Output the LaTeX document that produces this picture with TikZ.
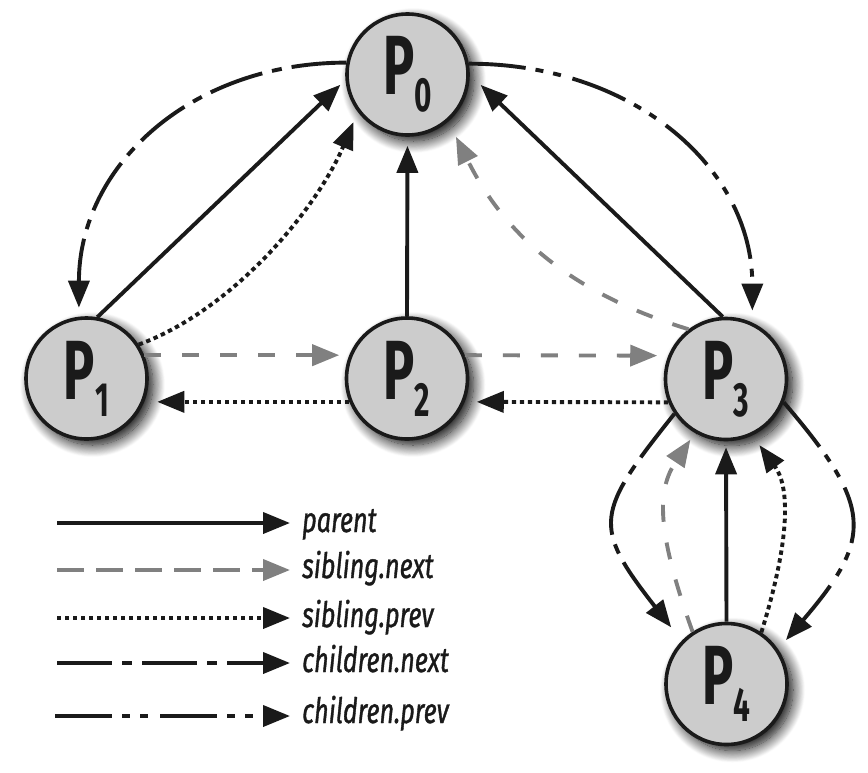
\documentclass[tikz,border=0pt]{standalone}
\usepackage{fontspec}
\setmainfont{Fira Sans}
\newfontfamily\pfont{Fira Sans}[FakeStretch=0.62]
\newfontfamily\lfont{Fira Sans}[FakeStretch=0.72,FakeBold=1]
\usetikzlibrary{arrows.meta,shadows.blur}
\definecolor{nodegray}{RGB}{204,204,204}
\definecolor{arrowgray}{RGB}{128,128,128}
\definecolor{inkblack}{RGB}{26,26,26}
\newcommand\plab[1]{{\pfont\bfseries\fontsize{84}{84}\selectfont P\raisebox{-17pt}{\fontsize{48}{48}\selectfont #1}}}
\tikzset{
  proc/.style={circle, draw=inkblack, line width=3.6pt, fill=nodegray,
    minimum size=121pt, inner sep=0pt, text=inkblack,
    blur shadow={shadow xshift=6pt, shadow yshift=-6pt, shadow blur radius=12pt,
      shadow opacity=100, shadow blur steps=16}},
  arrowend/.style={-{Triangle[length=27pt,width=21pt]}},
  baseln/.style={line width=3.9pt, line cap=butt, arrowend},
  parentln/.style={baseln, draw=inkblack},
  snext/.style={baseln, draw=arrowgray, dash pattern=on 17pt off 21pt},
  legsnext/.style={baseln, draw=arrowgray, dash pattern=on 27pt off 12pt},
  sprev/.style={baseln, draw=inkblack, dash pattern=on 4.4pt off 3.6pt},
  cnext/.style={baseln, draw=inkblack, dash pattern=on 55pt off 10pt on 10pt off 10pt},
  cprev/.style={baseln, draw=inkblack, dash pattern=on 57pt off 10pt on 8pt off 10pt on 8pt off 12pt},
  legtext/.style={anchor=base west, inner sep=0pt, text=inkblack,
    font=\lfont\itshape\fontsize{35}{35}\selectfont},
}
\begin{document}
\begin{tikzpicture}[x=1pt,y=-1pt]
\useasboundingbox (0,0) rectangle (868,772);
% processes
\node[proc] (P0) at (407.5,74.5) {\plab{0}};
\node[proc] (P1) at (86.5,378.5) {\plab{1}};
\node[proc] (P2) at (407,378.5) {\plab{2}};
\node[proc] (P3) at (726,379) {\plab{3}};
\node[proc] (P4) at (726.5,684) {\plab{4}};
% parent
\draw[parentln, shorten >=7pt] (P1.80) -- (P0.185);
\draw[parentln, shorten >=9pt] (P2.north) -- (P0.south);
\draw[parentln, shorten >=15pt] (P3.93) -- (P0.0);
\draw[parentln, shorten >=6pt] (P4.north) -- (P3.south);
% sibling.next
\draw[snext, shorten >=10pt] (P1.22) -- (P2.158);
\draw[snext, shorten >=11pt] (P2.22) -- (P3.158);
\draw[snext, shorten >=17pt] (P3.127) .. controls +(-130,-40) and +(51.5,103.5) .. (P0.311);
\draw[snext, shorten >=8pt] (P4.123) .. controls +(-36.5,-101.6) and +(-38,57) .. (P3.240);
% sibling.prev
\draw[sprev, shorten >=13pt] (P2.202) -- (P1.-22);
\draw[sprev, shorten >=12pt] (P3.202) -- (P2.-22);
\draw[sprev, shorten >=11pt] (P1.33) .. controls +(98,-36.5) and +(-39.6,93.9) .. (P0.217);
\draw[sprev, shorten >=12pt] (P4.56) .. controls +(30.5,-98) and +(36.6,50) .. (P3.295);
% children.next
\draw[cnext, shorten >=9pt] (P0.169) .. controls +(-155,0) and +(0,-151) .. (P1.97);
\draw[cnext, shorten >=17pt] (P3.214) .. controls +(-79,99) and +(-90,-115) .. (P4.136);
% children.prev
\draw[cprev, shorten >=12pt] (P0.10) .. controls +(164,0) and +(0,-155) .. (P3.65);
\draw[cprev, shorten >=12pt] (P3.338) .. controls +(89,104) and +(96,-112) .. (P4.34);
% legend
\coordinate (La1) at (57,523); \coordinate (Lb1) at (290,523);
\coordinate (La2) at (57,570); \coordinate (Lb2) at (290,570);
\coordinate (La3) at (57,618); \coordinate (Lb3) at (290,618);
\coordinate (La4) at (57,663); \coordinate (Lb4) at (290,663);
\coordinate (La5) at (55,716); \coordinate (Lb5) at (290,716);
\draw[parentln] (La1) -- (Lb1);
\draw[legsnext] (La2) -- (Lb2);
\draw[sprev] (La3) -- (Lb3);
\draw[cnext] (La4) -- (Lb4);
\draw[cprev] (La5) -- (Lb5);
\node[legtext] (T1) at (302,532) {parent};
\node[legtext] (T2) at (302,578) {sibling.next};
\node[legtext] (T3) at (302,627) {sibling.prev};
\node[legtext] (T4) at (302,672) {children.next};
\node[legtext] (T5) at (302,723) {children.prev};
\end{tikzpicture}
\end{document}
